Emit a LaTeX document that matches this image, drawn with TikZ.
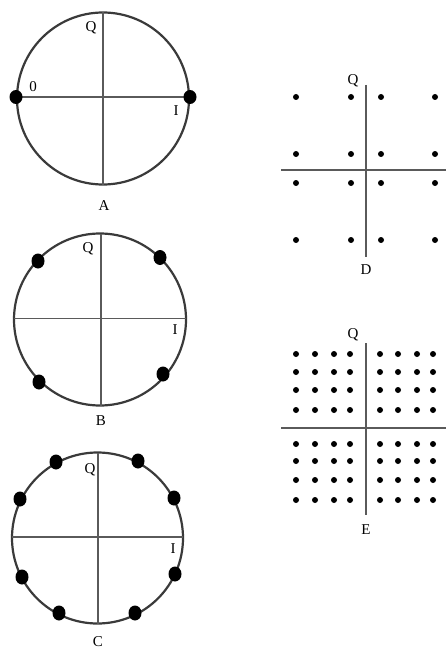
\documentclass[tikz,border=0pt]{standalone}
\usepackage{fontspec}
\setmainfont{Liberation Serif}
\definecolor{ringc}{HTML}{3A3A3A}
\definecolor{axisc}{HTML}{5A5A5A}
\begin{document}
\begin{tikzpicture}[x=1pt,y=-1pt,
  ring/.style={draw=ringc,line width=2.2pt},
  axis/.style={draw=axisc,line width=1.4pt},
  bigdot/.style={fill=black},
  smalldot/.style={fill=black},
  lab/.style={inner sep=0pt,font=\fontsize{15}{15}\selectfont}]
\useasboundingbox (0,0) rectangle (446,650);
% ---- A ----
\draw[ring] (103,98.5) circle (86);
\draw[axis] (17,97) -- (189,97);
\draw[axis] (103,12.5) -- (103,184.5);
\fill[bigdot] (16,97) ellipse (6.5 and 7);
\fill[bigdot] (190,97) ellipse (6.5 and 7);
\node[lab] (a0) at (33,87) {0};
\node[lab] (aQ) at (91,28) {Q};
\node[lab] (aI) at (176,111) {I};
\node[lab] (aA) at (104,206) {A};
% ---- B ----
\draw[ring] (100,319.5) circle (86);
\draw[axis] (14,318.5) -- (186,318.5);
\draw[axis] (101,233.5) -- (101,405.5);
\foreach \p in {(38,261),(160,257.5),(39,382),(163,374)}
  \fill[bigdot] \p ellipse (6.5 and 7.5);
\node[lab] (bQ) at (88,249) {Q};
\node[lab] (bI) at (175,330) {I};
\node[lab] (bB) at (101,421) {B};
% ---- C ----
\draw[ring] (97.5,538) circle (85.5);
\draw[axis] (12,537) -- (183,537);
\draw[axis] (98,452.5) -- (98,623.5);
\foreach \p in {(56,462),(138,461),(20,499),(174,498),(22,577),(175,574),(59,613),(135,613)}
  \fill[bigdot] \p ellipse (6.5 and 7.5);
\node[lab] (cQ) at (90,470) {Q};
\node[lab] (cI) at (173,549) {I};
\node[lab] (cC) at (98,642) {C};
% ---- D ----
\draw[axis] (281,170) -- (446,170);
\draw[axis] (366,85) -- (366,257);
\foreach \x in {296,351,381,435}
  \foreach \y in {97,154,183,240}
    \fill[smalldot] (\x,\y) circle (3);
\node[lab] (dQ) at (353,81) {Q};
\node[lab] (dD) at (366,270) {D};
% ---- E ----
\draw[axis] (281,428) -- (446,428);
\draw[axis] (366,343) -- (366,515);
\foreach \x in {296,315,334,350,380,398,417,433}
  \foreach \y in {354,372,390,410,444,461,480,500}
    \fill[smalldot] (\x,\y) circle (3);
\node[lab] (eQ) at (353,335) {Q};
\node[lab] (eE) at (366,530) {E};
\end{tikzpicture}
\end{document}
